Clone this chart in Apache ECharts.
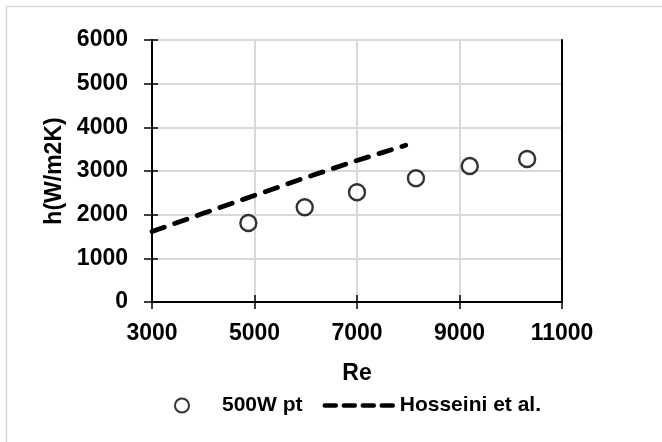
<!DOCTYPE html>
<html>
<head>
<meta charset="utf-8">
<script src="https://cdn.jsdelivr.net/npm/echarts@6/dist/echarts.min.js"></script>
<style>
html,body{margin:0;padding:0;background:#fff;}
#chart{width:662px;height:442px;}
</style>
</head>
<body>
<div id="chart"></div>
<script>
// Data
const seriesNames = ['500W pt', 'Hosseini et al.'];
const ptRe = [4880, 5980, 7000, 8150, 9200, 10320];
const ptH  = [1810, 2170, 2515, 2835, 3115, 3275];
const hosRe = [3000, 4000, 5000, 6000, 7000, 7950];
const hosH  = [1615, 2030, 2440, 2850, 3240, 3590];
const xTicks = [3000, 5000, 7000, 9000, 11000];
const yTicks = [0, 1000, 2000, 3000, 4000, 5000, 6000];

const FONT = '"Liberation Sans", Arial, sans-serif';
const chart = echarts.init(document.getElementById('chart'), null, {renderer: 'canvas'});

const xMin = xTicks[0], xMax = xTicks[xTicks.length - 1];
const yMin = yTicks[0], yMax = yTicks[yTicks.length - 1];
const xInt = xTicks[1] - xTicks[0], yInt = yTicks[1] - yTicks[0];

const labelStyle = {fontFamily: FONT, fontWeight: 'bold', fontSize: 23, color: '#000'};
const fmt = v => String(v);

chart.setOption({
  animation: false,
  backgroundColor: '#fff',
  graphic: [{
    type: 'rect', silent: true,
    shape: {x: 6.5, y: 6.5, width: 720, height: 520},
    style: {fill: 'none', stroke: '#d9d9d9', lineWidth: 1.5}
  }],
  grid: {left: 152, right: 100, top: 40, bottom: 140, containLabel: false},
  xAxis: [{
    type: 'value', min: xMin, max: xMax, interval: xInt,
    name: 'Re', nameLocation: 'middle', nameGap: 60,
    nameTextStyle: labelStyle,
    axisLine: {show: true, onZero: false, lineStyle: {color: '#000', width: 2}},
    axisTick: {show: true, length: 7, lineStyle: {color: '#000', width: 1.5}},
    axisLabel: Object.assign({margin: 20, formatter: fmt}, labelStyle),
    splitLine: {show: true, lineStyle: {color: '#d9d9d9', width: 2}}
  }, {
    type: 'value', min: xMin, max: xMax, interval: xInt, position: 'bottom',
    axisLine: {show: false},
    axisTick: {show: true, inside: true, length: 7, lineStyle: {color: '#000', width: 1.5}},
    axisLabel: {show: false}, splitLine: {show: false}
  }],
  yAxis: [{
    type: 'value', min: yMin, max: yMax, interval: yInt,
    name: 'h(W/m2K)', nameLocation: 'middle', nameGap: 84,
    nameTextStyle: labelStyle,
    axisLine: {show: true, onZero: false, lineStyle: {color: '#000', width: 2}},
    axisTick: {show: true, length: 8, lineStyle: {color: '#000', width: 1.5}},
    axisLabel: Object.assign({margin: 24, formatter: fmt}, labelStyle),
    splitLine: {show: true, lineStyle: {color: '#d9d9d9', width: 2}}
  }, {
    type: 'value', min: yMin, max: yMax, interval: yInt, position: 'left',
    axisLine: {show: false},
    axisTick: {show: true, inside: true, length: 6, lineStyle: {color: '#000', width: 1.5}},
    axisLabel: {show: false}, splitLine: {show: false}
  }, {
    type: 'value', min: yMin, max: yMax, interval: yInt, position: 'right',
    axisLine: {show: true, onZero: false, lineStyle: {color: '#000', width: 2}},
    axisTick: {show: false}, axisLabel: {show: false}, splitLine: {show: false}
  }],
  legend: {
    left: 169, top: 390,
    itemWidth: 70, itemHeight: 14, itemGap: 20,
    textStyle: {fontFamily: FONT, fontWeight: 'bold', fontSize: 21, color: '#000'},
    data: [
      {name: seriesNames[0], icon: 'circle',
       itemStyle: {color: '#fff', borderColor: '#000', borderWidth: 2}},
      {name: seriesNames[1],
       itemStyle: {opacity: 0},
       lineStyle: {color: '#000', width: 4.5, type: [11, 8], cap: 'round', opacity: 1}}
    ]
  },
  series: [{
    name: seriesNames[0], type: 'scatter',
    data: ptRe.map((x, i) => [x, ptH[i]]),
    symbol: 'circle', symbolSize: 16,
    itemStyle: {color: '#fff', borderColor: '#000', borderWidth: 2.4},
    z: 3
  }, {
    name: seriesNames[1], type: 'line',
    data: hosRe.map((x, i) => [x, hosH[i]]),
    symbol: 'none', smooth: false,
    lineStyle: {color: '#000', width: 4.8, type: [13, 11], cap: 'round'},
    itemStyle: {color: '#000'},
    z: 2
  }]
});
</script>
</body>
</html>
